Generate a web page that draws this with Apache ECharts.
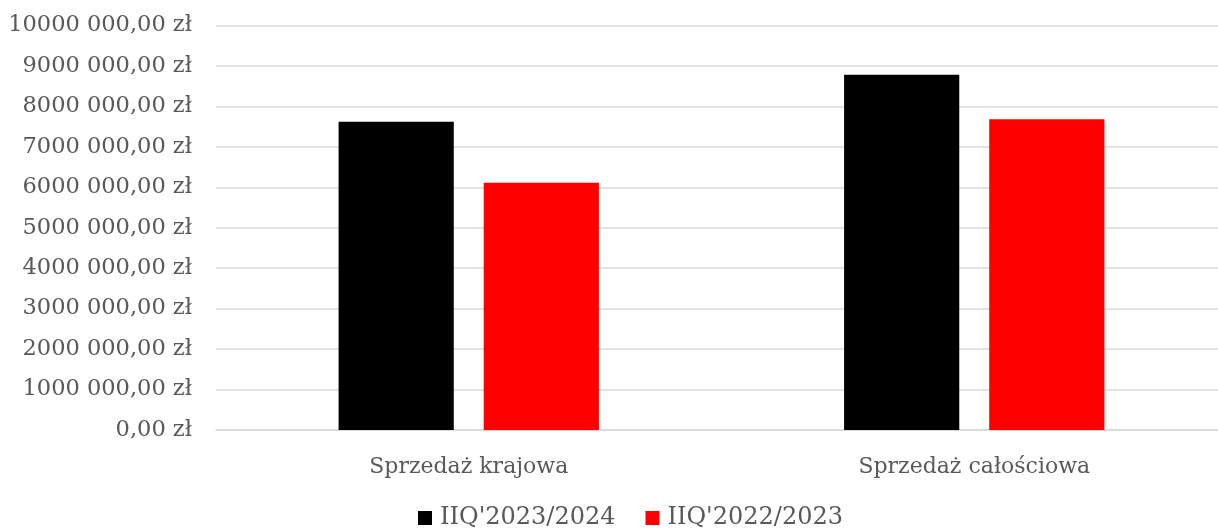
<!DOCTYPE html>
<html>
<head>
<meta charset="utf-8">
<script src="https://cdn.jsdelivr.net/npm/echarts@6/dist/echarts.min.js"></script>
<style>
  html, body { margin: 0; padding: 0; background: #fff; }
  #chart { width: 1218px; height: 530px; }
</style>
</head>
<body>
<div id="chart"></div>
<script>
const categories = ['Sprzedaż krajowa', 'Sprzedaż całościowa'];
const seriesNames = ["IIQ'2023/2024", "IIQ'2022/2023"];
const values2324 = [7620000, 8780000];
const values2223 = [6110000, 7680000];
const seriesColors = ['#000000', '#ff0000'];

// format like Excel pl-PL: "10000 000,00 zł"
function zl(v) {
  if (v === 0) return '0,00 zł';
  const s = String(Math.round(v));
  return s.slice(0, -3) + ' ' + s.slice(-3) + ',00 zł';
}

const font = 'DejaVu Serif';
const chart = echarts.init(document.getElementById('chart'));
chart.setOption({
  animation: false,
  textStyle: { fontFamily: font },
  grid: { left: 216, width: 1011, top: 25.5, bottom: 100, outerBoundsMode: 'none' },
  legend: {
    bottom: -5,
    left: 413,
    itemWidth: 14,
    itemHeight: 14,
    itemGap: 30,
    icon: 'rect',
    textStyle: { fontFamily: font, fontSize: 24, color: '#595959', padding: [0, 0, 0, 3] },
    data: seriesNames
  },
  xAxis: {
    type: 'category',
    data: categories,
    axisTick: { show: false },
    axisLine: { lineStyle: { color: '#d9d9d9', width: 1.5 } },
    axisLabel: { fontFamily: font, fontSize: 22, color: '#595959', margin: 26 }
  },
  yAxis: {
    type: 'value',
    min: 0,
    max: 10000000,
    interval: 1000000,
    axisLine: { show: false },
    axisTick: { show: false },
    splitLine: { lineStyle: { color: '#d9d9d9', width: 1.5 } },
    axisLabel: { fontFamily: font, fontSize: 22.5, color: '#595959', margin: 24, formatter: zl }
  },
  series: [
    {
      name: seriesNames[0], type: 'bar', data: values2324,
      itemStyle: { color: seriesColors[0] },
      barGap: '26%', barCategoryGap: '48.5%'
    },
    {
      name: seriesNames[1], type: 'bar', data: values2223,
      itemStyle: { color: seriesColors[1] },
      barGap: '26%', barCategoryGap: '48.5%'
    }
  ]
});
</script>
</body>
</html>
